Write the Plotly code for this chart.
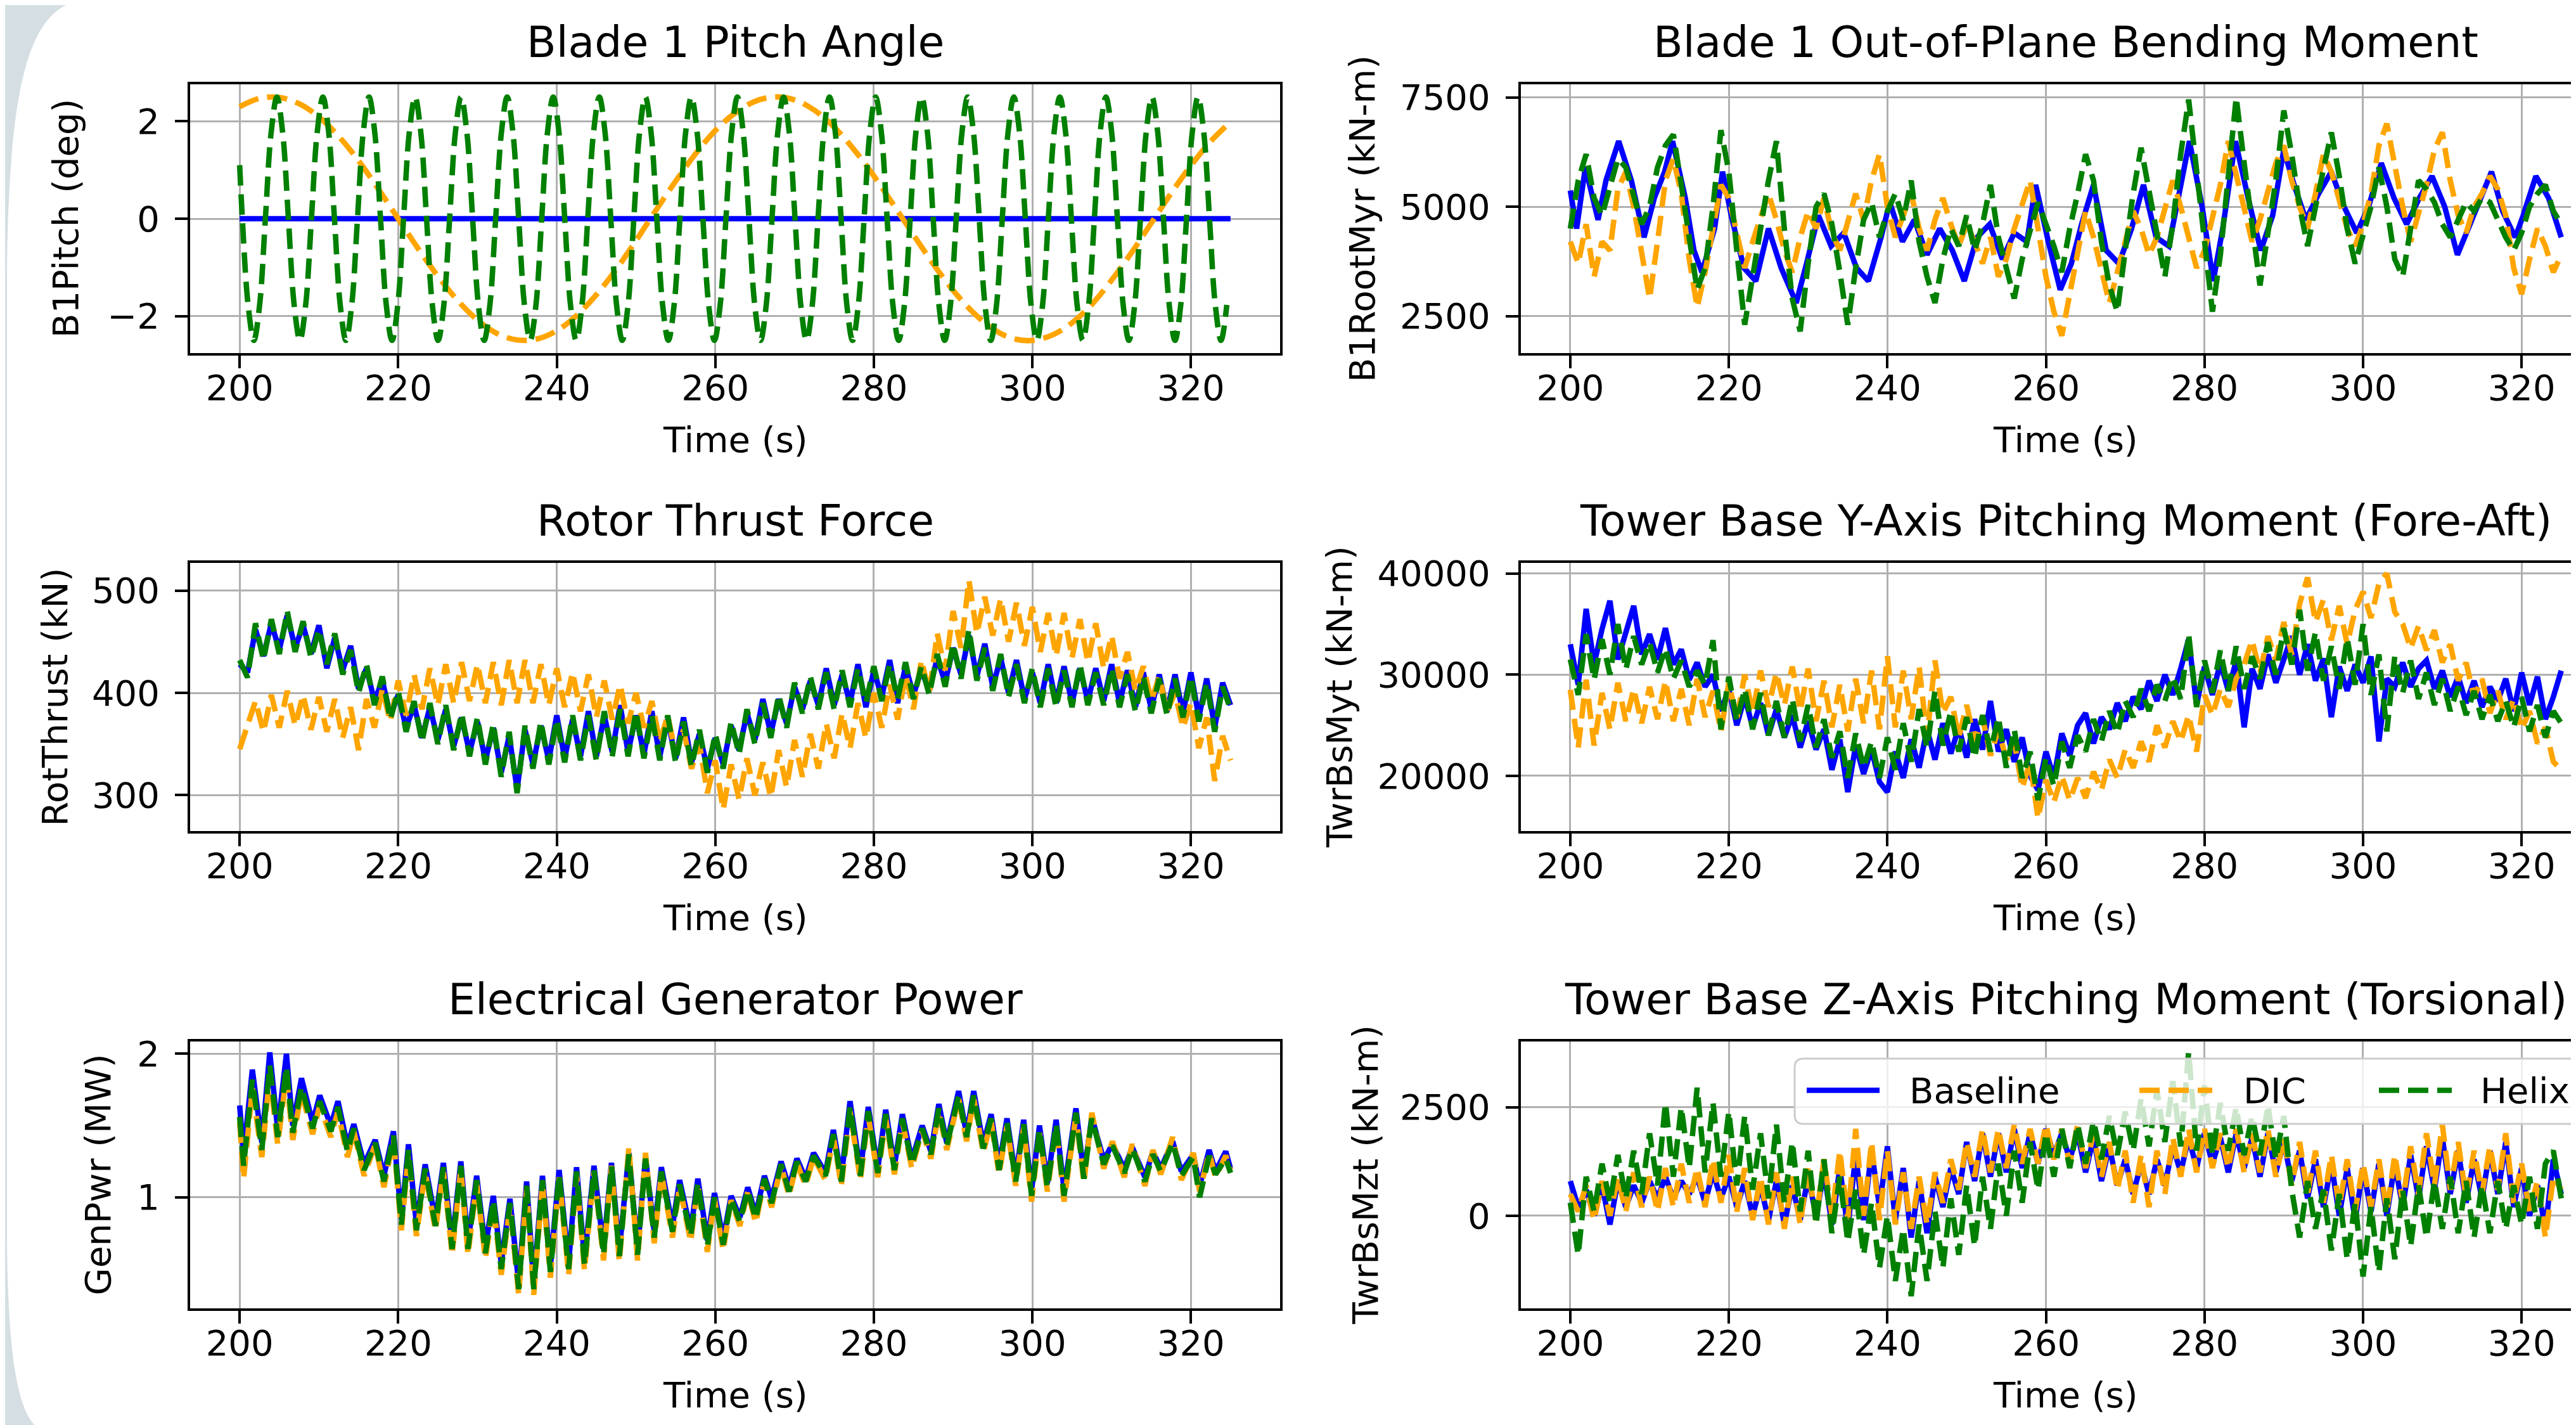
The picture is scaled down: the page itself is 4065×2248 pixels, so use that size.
import numpy as np
import plotly.graph_objects as go

W, H = 4065, 2248

# ---------------------------------------------------------------- data
TIME_1S = np.arange(200, 326)                      # 1-s sample grid (s)
TIME_TICKS = [200, 220, 240, 260, 280, 300, 320]
SERIES_NAMES = ["Baseline", "DIC", "Helix"]

# Blade 1 pitch angle (deg)
PITCH_T_BASE = [200.0, 325.0]
PITCH_BASE = [0.0, 0.0]
PITCH_T_DIC = np.linspace(200.0, 325.0, 51)
PITCH_DIC = [2.30, 2.47, 2.49, 2.36, 2.09, 1.69, 1.19, 0.61, 0.00, -0.61,
             -1.18, -1.68, -2.08, -2.36, -2.49, -2.47, -2.30, -1.99, -1.56, -1.04,
             -0.45, 0.17, 0.77, 1.33, 1.81, 2.17, 2.41, 2.50, 2.44, 2.23,
             1.88, 1.42, 0.88, 0.28, -0.33, -0.93, -1.47, -1.92, -2.26, -2.46,
             -2.50, -2.39, -2.14, -1.76, -1.26, -0.70, -0.09, 0.52, 1.09, 1.59,
             1.99]
PITCH_T_HELIX = np.concatenate([[200.0], np.round(200.34 + 0.72625 * np.arange(172), 3)])
PITCH_HELIX = [1.1,
    0, -1.77, -2.5, -1.77, 0, 1.77, 2.5, 1.77,
    0, -1.77, -2.5, -1.77, 0, 1.77, 2.5, 1.77,
    0, -1.77, -2.5, -1.77, 0, 1.77, 2.5, 1.77,
    0, -1.77, -2.5, -1.77, 0, 1.77, 2.5, 1.77,
    0, -1.77, -2.5, -1.77, 0, 1.77, 2.5, 1.77,
    0, -1.77, -2.5, -1.77, 0, 1.77, 2.5, 1.77,
    0, -1.77, -2.5, -1.77, 0, 1.77, 2.5, 1.77,
    0, -1.77, -2.5, -1.77, 0, 1.77, 2.5, 1.77,
    0, -1.77, -2.5, -1.77, 0, 1.77, 2.5, 1.77,
    0, -1.77, -2.5, -1.77, 0, 1.77, 2.5, 1.77,
    0, -1.77, -2.5, -1.77, 0, 1.77, 2.5, 1.77,
    0, -1.77, -2.5, -1.77, 0, 1.77, 2.5, 1.77,
    0, -1.77, -2.5, -1.77, 0, 1.77, 2.5, 1.77,
    0, -1.77, -2.5, -1.77, 0, 1.77, 2.5, 1.77,
    0, -1.77, -2.5, -1.77, 0, 1.77, 2.5, 1.77,
    0, -1.77, -2.5, -1.77, 0, 1.77, 2.5, 1.77,
    0, -1.77, -2.5, -1.77, 0, 1.77, 2.5, 1.77,
    0, -1.77, -2.5, -1.77, 0, 1.77, 2.5, 1.77,
    0, -1.77, -2.5, -1.77, 0, 1.77, 2.5, 1.77,
    0, -1.77, -2.5, -1.77, 0, 1.77, 2.5, 1.77,
    0, -1.77, -2.5, -1.77, 0, 1.77, 2.5, 1.77,
    0, -1.77, -2.5, -1.77]

# Blade 1 out-of-plane root bending moment (kN-m)
MYR_T_BASE = [200, 200.8, 201.9, 203.5, 204.5, 206.1, 207.7, 209.3, 210.6, 211.9,
              212.9, 214.5, 215.6, 216.6, 218.2, 219.2, 220.3, 221.9, 223.4, 225.0,
              226.6, 228.5, 229.8, 231.3, 232.9, 234.5, 236.1, 237.6, 239.2, 240.3,
              241.9, 243.4, 245.0, 246.6, 248.2, 249.7, 251.3, 252.9, 254.5, 256.0,
              257.6, 258.7, 260.3, 261.8, 263.2, 264.5, 266.0, 267.6, 269.2, 270.8,
              272.3, 273.9, 275.5, 277.1, 278.1, 279.7, 281.1, 282.3, 283.9, 285.5,
              287.1, 288.6, 290.0, 291.3, 292.8, 294.4, 296.0, 297.6, 299.2, 300.7,
              302.3, 303.9, 305.5, 307.1, 308.7, 310.3, 311.9, 313.5, 315.1, 316.2,
              317.6, 319.2, 320.2, 321.8, 323.4, 325.0]
MYR_BASE = [5370, 4500, 5900, 4700, 5600, 6500, 5600, 4300, 5200, 5800,
            6500, 5200, 4000, 3500, 4500, 5800, 4800, 3600, 3300, 4500,
            3600, 2800, 3700, 4800, 4100, 4400, 3600, 3300, 4300, 5100,
            4200, 4700, 3900, 4500, 4000, 3300, 4300, 4600, 3800, 4400,
            4200, 5500, 4200, 3100, 3700, 4600, 5500, 4000, 3700, 4500,
            5500, 4300, 4100, 5500, 6500, 5000, 3300, 4500, 6500, 5200,
            4000, 4800, 6300, 5500, 4700, 5300, 5800, 5000, 4400, 5000,
            6000, 5200, 4600, 5200, 5700, 5000, 3900, 4600, 5300, 5800,
            4900, 4300, 4800, 5700, 5200, 4300]
MYR_DIC = [4200, 3700, 4600, 3400, 4200, 4000, 5400, 5800, 5000, 3900,
           2900, 4200, 5600, 6100, 5300, 3800, 2700, 3500, 4500, 5500,
           5200, 4400, 3600, 4200, 4800, 5300, 4700, 4000, 3500, 4300,
           4900, 4500, 5200, 4400, 4000, 4700, 5300, 4700, 5600, 6200,
           5000, 4300, 4800, 5300, 4500, 4000, 4700, 5200, 4600, 4100,
           4600, 4200, 3700, 4300, 3400, 3800, 4500, 5100, 5600, 4500,
           3400, 2600, 2050, 3000, 4000, 4900, 4300, 3500, 2800, 3500,
           4200, 4900, 4500, 3900, 4300, 5000, 5600, 5000, 4300, 3600,
           4000, 4800, 5500, 6500, 5700, 5000, 4200, 4700, 5300, 6000,
           6400, 5600, 5000, 4500, 5300, 6200, 5800, 5200, 4500, 4100,
           4600, 5300, 6400, 6900, 5900, 5000, 4200, 4800, 5500, 6300,
           6700, 5600, 4800, 4400, 5000, 5300, 5700, 5400, 4800, 3600,
           3000, 3800, 4500, 4100, 3500, 3900]
MYR_HELIX = [4500, 5600, 6200, 5200, 4800, 5500, 6100, 5900, 5200, 4600,
             5000, 5900, 6400, 6650, 5500, 4200, 3100, 3600, 5000, 6750,
             5800, 4000, 2300, 3400, 4600, 5600, 6500, 4500, 2900, 2150,
             3700, 5000, 5300, 4600, 3500, 2300, 3600, 4700, 5100, 4300,
             4900, 5300, 4700, 5600, 4200, 3400, 2800, 3800, 4500, 4100,
             4800, 4000, 4600, 5500, 4300, 3600, 2900, 3800, 4500, 5100,
             4600, 4100, 3500, 4500, 5300, 6200, 5600, 4200, 3200, 2600,
             4000, 5300, 6350, 5400, 4300, 3400, 4600, 6200, 7450, 5800,
             4000, 2600, 3900, 5800, 7500, 6000, 4500, 3200, 4400, 5600,
             7200, 6200, 5000, 4100, 5000, 5900, 6700, 5700, 4500, 3700,
             4300, 5000, 5900, 5000, 3800, 3400, 4500, 5600, 5400, 5100,
             4600, 4300, 4700, 5100, 4900, 5200, 5100, 4700, 4300, 4000,
             4400, 5000, 5300, 5500, 4900, 4600]

# Rotor thrust (kN), 1-s grid
THRUST_BASE = [428, 420, 462, 436, 468, 442, 476, 444, 466, 438,
               466, 424, 454, 422, 446, 404, 424, 392, 412, 378,
               398, 366, 388, 356, 386, 354, 384, 348, 376, 342,
               372, 334, 366, 322, 358, 306, 364, 330, 368, 334,
               378, 336, 374, 338, 382, 338, 378, 342, 388, 342,
               378, 340, 382, 338, 374, 336, 376, 332, 360, 326,
               356, 330, 368, 344, 380, 354, 394, 360, 394, 370,
               406, 384, 412, 388, 424, 388, 418, 390, 428, 386,
               422, 396, 432, 390, 426, 398, 422, 402, 434, 410,
               444, 418, 456, 416, 448, 406, 434, 400, 432, 394,
               420, 390, 428, 390, 426, 390, 424, 392, 424, 392,
               428, 390, 422, 386, 420, 384, 418, 382, 418, 380,
               420, 376, 414, 366, 410, 388]
THRUST_DIC = [345, 368, 392, 362, 398, 366, 402, 368, 398, 364,
              396, 362, 394, 356, 386, 344, 394, 366, 404, 372,
              412, 378, 418, 384, 424, 388, 428, 390, 430, 392,
              428, 390, 430, 388, 432, 390, 432, 390, 428, 388,
              424, 386, 420, 382, 418, 376, 412, 374, 408, 370,
              400, 366, 392, 352, 378, 340, 364, 326, 350, 302,
              334, 286, 330, 296, 336, 300, 332, 298, 344, 308,
              354, 318, 360, 326, 370, 336, 380, 346, 390, 356,
              400, 366, 408, 374, 418, 384, 432, 400, 458, 422,
              480, 444, 510, 458, 494, 456, 492, 450, 488, 446,
              484, 440, 478, 436, 478, 434, 472, 430, 468, 424,
              456, 414, 440, 402, 426, 392, 416, 382, 400, 366,
              390, 346, 376, 314, 358, 334]
THRUST_HELIX = [432, 415, 468, 432, 472, 438, 480, 440, 470, 434,
                462, 428, 458, 418, 442, 400, 428, 388, 416, 374,
                402, 362, 392, 352, 390, 350, 388, 344, 380, 338,
                376, 330, 370, 318, 362, 302, 368, 326, 372, 330,
                374, 332, 378, 334, 378, 334, 382, 338, 384, 338,
                382, 336, 378, 334, 378, 332, 372, 328, 364, 322,
                360, 326, 372, 340, 384, 350, 390, 356, 398, 366,
                410, 380, 416, 384, 420, 384, 422, 386, 424, 390,
                426, 392, 428, 394, 430, 394, 426, 398, 438, 406,
                448, 414, 462, 412, 444, 402, 438, 396, 428, 390,
                424, 386, 424, 386, 422, 386, 428, 388, 420, 388,
                424, 386, 418, 382, 416, 380, 414, 378, 414, 376,
                416, 372, 410, 362, 406, 384]

# Tower base fore-aft moment (kN-m), 1-s grid
MYT_BASE = [33000, 29000, 36500, 31000, 34500, 37300, 31500, 34000, 36800, 32000,
            34000, 31500, 34600, 31000, 32500, 29500, 31200, 28800, 30000, 26400,
            28600, 25000, 27800, 24800, 27200, 24000, 26600, 23800, 26000, 22800,
            25400, 22600, 24600, 20600, 23600, 18400, 23000, 20200, 22600, 19400,
            18400, 22400, 19800, 23600, 20800, 24600, 21600, 25200, 22200, 24800,
            21800, 25600, 22600, 27400, 22400, 24600, 21400, 23800, 20000, 18600,
            22400, 19800, 24200, 22000, 25000, 26200, 23200, 25800, 24600, 27200,
            25400, 27800, 26600, 29400, 27400, 30000, 28000, 30600, 33500, 27000,
            30800, 28000, 31200, 28400, 31400, 24800, 30600, 28600, 32000, 29200,
            31600, 33800, 30000, 33000, 29400, 31600, 25800, 30800, 28400, 31000,
            29200, 31800, 23400, 29600, 28800, 31200, 28800, 30600, 31400, 28600,
            30400, 27800, 29800, 27200, 29400, 26800, 28800, 27400, 29600, 26400,
            30200, 27000, 29800, 25600, 27800, 30400]
MYT_DIC = [28500, 22800, 29500, 23000, 28200, 24600, 29200, 25400, 28600, 25200,
           28800, 25600, 29400, 25400, 28600, 25000, 29600, 25800, 28400, 24400,
           29200, 25600, 30000, 26200, 30400, 26800, 30200, 27000, 30800, 26400,
           30600, 25400, 29400, 24800, 29000, 24400, 29600, 25200, 30400, 24600,
           31800, 24800, 30400, 25600, 30800, 23800, 31400, 26200, 27800, 23800,
           27000, 23400, 25800, 22000, 24600, 21600, 23400, 18800, 21400, 15800,
           19600, 17400, 20000, 17600, 19800, 17800, 20400, 18600, 21600, 19800,
           22600, 20800, 23400, 21400, 25000, 22800, 25400, 23400, 26000, 22400,
           28000, 26000, 28600, 26800, 29600, 31000, 33400, 30200, 33800, 31400,
           35200, 32000, 37000, 39600, 35200, 37400, 33400, 36800, 33000, 36400,
           38200, 35600, 39000, 40000, 36200, 35000, 32600, 34800, 32400, 34400,
           31200, 33000, 29400, 31200, 27800, 29600, 26200, 28400, 25600, 27600,
           24600, 26400, 23200, 24800, 21400, 20600]
MYT_HELIX = [31500, 28000, 34000, 29500, 33500, 30000, 35000, 30500, 33800, 31000,
             33200, 30200, 32600, 29600, 31400, 28800, 30400, 29000, 33400, 24600,
             29800, 25400, 28600, 24600, 28200, 24000, 27400, 23800, 27600, 23400,
             27000, 22800, 25600, 21800, 24400, 19800, 24200, 20800, 23400, 19800,
             23800, 20600, 25200, 21400, 26600, 22800, 28400, 23000, 26400, 22400,
             25800, 21800, 26000, 22400, 25800, 20800, 24600, 19800, 22400, 17600,
             21800, 19000, 23400, 20800, 24000, 22400, 25600, 23400, 26400, 24200,
             27400, 25800, 28600, 26400, 29000, 27400, 29800, 27600, 34000, 26800,
             31400, 28200, 32400, 28400, 32800, 28600, 31800, 29600, 33200, 30000,
             34600, 31000, 36400, 30400, 34200, 29400, 32800, 28600, 33600, 29000,
             35000, 28000, 32000, 24400, 31800, 28200, 31400, 27600, 30200, 27000,
             29600, 26400, 28800, 26000, 28400, 25600, 28000, 25400, 27400, 24800,
             27800, 24400, 27000, 23800, 26400, 25200]

# Electrical generator power (MW), sampled at read peaks / troughs
PWR_T = [200.0, 200.5, 201.6, 202.8, 203.8, 204.8, 205.9, 206.7, 207.8, 209.2,
         210.1, 211.5, 212.4, 213.6, 214.4, 215.7, 217.1, 218.2, 219.4, 220.4,
         221.3, 222.3, 223.4, 224.7, 225.7, 226.8, 227.9, 228.8, 229.9, 231.0,
         232.0, 233.0, 234.1, 235.2, 236.2, 237.1, 238.2, 239.2, 240.3, 241.5,
         242.5, 243.5, 244.7, 245.9, 246.9, 247.9, 249.1, 250.2, 251.2, 252.3,
         253.2, 254.6, 255.5, 256.9, 257.8, 259.0, 259.9, 261.0, 262.0, 263.1,
         264.1, 265.1, 266.2, 267.1, 268.3, 269.3, 270.3, 271.4, 272.4, 273.9,
         274.9, 275.9, 277.0, 278.3, 279.3, 280.5, 281.5, 282.6, 283.6, 284.8,
         286.1, 287.2, 288.2, 289.2, 290.7, 291.7, 292.6, 293.8, 294.8, 295.8,
         296.8, 297.9, 298.9, 299.9, 300.9, 301.9, 303.0, 304.0, 305.5, 306.5,
         307.5, 309.0, 310.1, 311.6, 312.6, 314.2, 315.2, 316.2, 317.7, 318.8,
         320.3, 321.1, 322.3, 323.1, 324.4, 325.0]
PWR_BASE = [1.64, 1.30, 1.89, 1.38, 2.01, 1.47, 2.00, 1.50, 1.83, 1.52,
            1.71, 1.50, 1.67, 1.36, 1.51, 1.23, 1.40, 1.15, 1.46, 0.85,
            1.37, 0.81, 1.23, 0.84, 1.24, 0.68, 1.25, 0.68, 1.15, 0.65,
            1.01, 0.54, 0.99, 0.40, 1.11, 0.40, 1.15, 0.52, 1.19, 0.54,
            1.21, 0.57, 1.22, 0.64, 1.24, 0.63, 1.31, 0.64, 1.28, 0.76,
            1.21, 0.80, 1.12, 0.77, 1.13, 0.70, 1.03, 0.71, 1.01, 0.86,
            1.07, 0.88, 1.15, 0.99, 1.25, 1.07, 1.27, 1.13, 1.31, 1.17,
            1.47, 1.14, 1.67, 1.18, 1.63, 1.20, 1.61, 1.22, 1.58, 1.26,
            1.50, 1.32, 1.65, 1.38, 1.74, 1.44, 1.74, 1.37, 1.58, 1.22,
            1.55, 1.14, 1.54, 1.05, 1.50, 1.10, 1.54, 1.05, 1.62, 1.16,
            1.56, 1.26, 1.37, 1.20, 1.35, 1.14, 1.32, 1.20, 1.39, 1.18,
            1.30, 1.08, 1.33, 1.18, 1.32, 1.20]
PWR_DIC = [1.52, 1.13, 1.76, 1.28, 1.86, 1.37, 1.85, 1.40, 1.73, 1.44,
           1.64, 1.42, 1.60, 1.28, 1.46, 1.15, 1.37, 1.07, 1.41, 0.77,
           1.30, 0.73, 1.18, 0.77, 1.19, 0.60, 1.20, 0.60, 1.10, 0.57,
           0.96, 0.46, 0.94, 0.32, 1.06, 0.32, 1.10, 0.44, 1.14, 0.46,
           1.16, 0.49, 1.18, 0.56, 1.22, 0.55, 1.35, 0.56, 1.31, 0.68,
           1.17, 0.72, 1.08, 0.69, 1.09, 0.62, 0.99, 0.63, 0.98, 0.80,
           1.04, 0.82, 1.12, 0.93, 1.22, 1.01, 1.24, 1.08, 1.28, 1.12,
           1.42, 1.08, 1.60, 1.12, 1.57, 1.14, 1.55, 1.16, 1.53, 1.20,
           1.47, 1.27, 1.60, 1.33, 1.69, 1.39, 1.69, 1.31, 1.53, 1.16,
           1.50, 1.08, 1.49, 0.97, 1.45, 1.04, 1.50, 0.97, 1.57, 1.10,
           1.59, 1.20, 1.39, 1.14, 1.37, 1.08, 1.33, 1.16, 1.42, 1.12,
           1.31, 1.04, 1.31, 1.14, 1.29, 1.19]
PWR_HELIX = [1.56, 1.22, 1.82, 1.33, 1.92, 1.42, 1.91, 1.45, 1.77, 1.48,
             1.67, 1.46, 1.63, 1.32, 1.48, 1.19, 1.38, 1.11, 1.43, 0.81,
             1.33, 0.77, 1.20, 0.80, 1.21, 0.64, 1.22, 0.64, 1.12, 0.61,
             0.98, 0.50, 0.96, 0.36, 1.08, 0.36, 1.12, 0.48, 1.16, 0.50,
             1.18, 0.53, 1.19, 0.60, 1.22, 0.59, 1.30, 0.60, 1.27, 0.72,
             1.18, 0.76, 1.09, 0.73, 1.10, 0.66, 1.00, 0.67, 0.99, 0.83,
             1.05, 0.85, 1.13, 0.96, 1.23, 1.04, 1.25, 1.11, 1.29, 1.15,
             1.44, 1.11, 1.63, 1.15, 1.60, 1.17, 1.58, 1.19, 1.55, 1.23,
             1.48, 1.30, 1.62, 1.36, 1.71, 1.42, 1.71, 1.34, 1.55, 1.19,
             1.52, 1.11, 1.51, 1.01, 1.47, 1.07, 1.51, 1.01, 1.59, 1.13,
             1.55, 1.23, 1.36, 1.17, 1.34, 1.11, 1.30, 1.18, 1.38, 1.15,
             1.28, 1.00, 1.29, 1.16, 1.27, 1.17]

# Tower base torsional moment (kN-m), 1-s grid
MZT_BASE = [800, 200, 600, 0, 700, -200, 800, 200, 700, 300,
            800, 400, 900, 400, 800, 500, 900, 300, 1000, 400,
            900, 200, 800, 0, 700, -100, 800, -200, 700, -100,
            900, 0, 1000, -200, 1100, -300, 1400, -100, 1500, 200,
            1600, -100, 1100, -500, 800, -400, 900, 200, 1100, 500,
            1700, 800, 1900, 900, 1900, 1000, 2000, 1100, 1900, 1200,
            2000, 1400, 1900, 1300, 1900, 1000, 1800, 800, 1600, 700,
            1300, 500, 1200, 500, 1300, 700, 1600, 1000, 1800, 1100,
            1900, 1200, 1800, 1000, 1900, 1100, 1800, 900, 1900, 1000,
            1700, 800, 1500, 400, 1300, 200, 1200, 0, 1100, -100,
            1100, 100, 1200, 0, 1200, 200, 1400, 400, 1600, 600,
            1800, 500, 1500, 300, 1300, 400, 1500, 500, 1700, 200,
            1100, 0, 700, -300, 1300, 500]
MZT_DIC = [500, 100, 700, -100, 800, 0, 900, 100, 1000, 200,
           900, 100, 1100, 200, 1200, 300, 1100, 200, 1300, 300,
           1400, 100, 1100, -100, 900, -200, 1000, -300, 900, -200,
           1100, -100, 1300, 0, 1500, -100, 2000, 0, 1700, -100,
           1500, -200, 1000, -300, 900, -200, 1000, 300, 1300, 600,
           1700, 900, 2000, 1000, 2000, 1100, 2100, 1200, 2000, 1200,
           2100, 1300, 2000, 1200, 2100, 1100, 1900, 900, 1700, 600,
           1500, 300, 1400, 200, 1500, 500, 1800, 900, 2000, 1000,
           2000, 1100, 1900, 1100, 2000, 1000, 1900, 1000, 2000, 900,
           1800, 700, 1700, 500, 1500, 300, 1400, 200, 1300, 100,
           1200, 200, 1300, 100, 1400, 300, 1600, 500, 1900, 700,
           2100, 600, 1700, 400, 1500, 500, 1600, 600, 1900, 300,
           1200, 100, 800, -500, 900, 600]
MZT_HELIX = [300, -900, 900, 100, 1200, 300, 1400, 400, 1500, 500,
             1900, 700, 2600, 900, 2500, 1100, 2950, 1000, 2600, 900,
             2400, 700, 2300, 600, 1900, 400, 2100, 300, 1700, 100,
             1500, -200, 1300, -400, 900, -600, 600, -900, 300, -1200,
             0, -1500, -300, -1850, -200, -1500, 100, -1200, 400, -900,
             700, -700, 900, -300, 1200, 0, 1500, 300, 1700, 600,
             1900, 900, 2000, 1100, 2100, 1200, 2200, 1300, 2300, 1400,
             2400, 1500, 2700, 1600, 2900, 1700, 3100, 1600, 3770, 1500,
             3000, 1400, 2600, 1500, 2500, 1400, 2300, 1400, 2550, 1300,
             2300, 600, -500, 800, -300, 600, -800, 500, -1000, 300,
             -1400, 200, -1300, 400, -1000, 600, -700, 700, -500, 800,
             -300, 900, -400, 800, -500, 700, -400, 800, -300, 700,
             -200, 900, -300, 1200, 1500, 400]

# ---------------------------------------------------------------- styling / layout
FONT = "DejaVu Sans"
TITLE_SIZE, TICK_SIZE, LABEL_SIZE = 68, 56, 56
LINE_W = 8.6
DASH = "32px,14px"
STYLE = {"Baseline": dict(color="#0000ff", dash="solid"),
         "DIC": dict(color="#ffa500", dash=DASH),
         "Helix": dict(color="#008000", dash=DASH)}

COL_X = [(292.0, 2012.0), (2391.8, 4065.0)]
COL_CENTER = [1152.0, 3251.8]
XRANGE = [[193.75, 331.25], [193.75, 327.5]]
ROW_Y = [(125.0, 549.0), (880.0, 1303.0), (1635.0, 2056.0)]


def fx(px):
    return px / W


def fy(py):
    return 1.0 - py / H


panels = [
    dict(title="Blade 1 Pitch Angle", ylabel="B1Pitch (deg)", row=0, col=0, ylab_x=95,
         yrange=[-2.76, 2.76], yticks=[-2, 0, 2], yticktext=["\u22122", "0", "2"],
         series=[(PITCH_T_BASE, PITCH_BASE, "Baseline", "linear"),
                 (PITCH_T_DIC, PITCH_DIC, "DIC", "spline"),
                 (PITCH_T_HELIX, PITCH_HELIX, "Helix", "spline")]),
    dict(title="Blade 1 Out-of-Plane Bending Moment", ylabel="B1RootMyr (kN-m)", row=0, col=1,
         ylab_x=2141, yrange=[1653, 7799], yticks=[2500, 5000, 7500],
         yticktext=["2500", "5000", "7500"],
         series=[(MYR_T_BASE, MYR_BASE, "Baseline", "linear"),
                 (TIME_1S, MYR_DIC, "DIC", "linear"),
                 (TIME_1S, MYR_HELIX, "Helix", "linear")]),
    dict(title="Rotor Thrust Force", ylabel="RotThrust (kN)", row=1, col=0, ylab_x=78,
         yrange=[265, 527], yticks=[300, 400, 500], yticktext=["300", "400", "500"],
         series=[(TIME_1S, THRUST_BASE, "Baseline", "linear"),
                 (TIME_1S, THRUST_DIC, "DIC", "linear"),
                 (TIME_1S, THRUST_HELIX, "Helix", "linear")]),
    dict(title="Tower Base Y-Axis Pitching Moment (Fore-Aft)", ylabel="TwrBsMyt (kN-m)",
         row=1, col=1, ylab_x=2105, yrange=[14550, 41040], yticks=[20000, 30000, 40000],
         yticktext=["20000", "30000", "40000"],
         series=[(TIME_1S, MYT_BASE, "Baseline", "linear"),
                 (TIME_1S, MYT_DIC, "DIC", "linear"),
                 (TIME_1S, MYT_HELIX, "Helix", "linear")]),
    dict(title="Electrical Generator Power", ylabel="GenPwr (MW)", row=2, col=0, ylab_x=146,
         yrange=[0.226, 2.086], yticks=[1, 2], yticktext=["1", "2"],
         series=[(PWR_T, PWR_BASE, "Baseline", "linear"),
                 (PWR_T, PWR_DIC, "DIC", "linear"),
                 (PWR_T, PWR_HELIX, "Helix", "linear")]),
    dict(title="Tower Base Z-Axis Pitching Moment (Torsional)", ylabel="TwrBsMzt (kN-m)",
         row=2, col=1, ylab_x=2146, yrange=[-2132, 4014], yticks=[0, 2500],
         yticktext=["0", "2500"],
         series=[(TIME_1S, MZT_BASE, "Baseline", "linear"),
                 (TIME_1S, MZT_DIC, "DIC", "linear"),
                 (TIME_1S, MZT_HELIX, "Helix", "linear")]),
]

fig = go.Figure()
layout = dict(width=W, height=H, autosize=False, margin=dict(l=0, r=0, t=0, b=0),
              paper_bgcolor="white", plot_bgcolor="white", showlegend=False,
              template="none", font=dict(family=FONT, color="black"))
annotations = []
shapes = []

for i, p in enumerate(panels, start=1):
    x0, x1 = COL_X[p["col"]]
    ytop, ybot = ROW_Y[p["row"]]
    xa = "xaxis" if i == 1 else f"xaxis{i}"
    ya = "yaxis" if i == 1 else f"yaxis{i}"
    common = dict(showgrid=True, gridcolor="#b0b0b0", gridwidth=3, zeroline=False,
                  showline=True, linecolor="black", linewidth=4,
                  ticks="outside", ticklen=20, tickwidth=4, tickcolor="black",
                  tickfont=dict(family=FONT, size=TICK_SIZE, color="black"),
                  fixedrange=True)
    layout[xa] = dict(domain=[fx(x0), fx(x1)], range=XRANGE[p["col"]],
                      anchor=f"y{i}", tickmode="array", tickvals=TIME_TICKS,
                      ticktext=[str(t) for t in TIME_TICKS], mirror=True,
                      ticklabelstandoff=-17, **common)
    layout[ya] = dict(domain=[fy(ybot), fy(ytop)], range=p["yrange"], anchor=f"x{i}",
                      tickmode="array", tickvals=p["yticks"], ticktext=p["yticktext"],
                      mirror=(p["col"] == 0), ticklabelstandoff=13, **common)
    for tx, vy, name, shape in p["series"]:
        st = STYLE[name]
        n = min(len(tx), len(vy))
        fig.add_trace(go.Scatter(
            x=list(tx)[:n], y=list(vy)[:n], mode="lines", name=name,
            line=dict(color=st["color"], width=LINE_W, dash=st["dash"], shape=shape),
            xaxis=f"x{i}", yaxis=f"y{i}", showlegend=False, hoverinfo="skip"))
    cx = COL_CENTER[p["col"]]
    annotations.append(dict(text=p["title"], x=fx(cx), y=fy(ytop - 25),
                            xref="paper", yref="paper", xanchor="center", yanchor="bottom",
                            showarrow=False,
                            font=dict(family=FONT, size=TITLE_SIZE, color="black")))
    annotations.append(dict(text="Time (s)", x=fx(cx), y=fy(ybot + 171),
                            xref="paper", yref="paper", xanchor="center", yanchor="bottom",
                            showarrow=False,
                            font=dict(family=FONT, size=LABEL_SIZE, color="black")))
    annotations.append(dict(text=p["ylabel"], x=fx(p["ylab_x"]), y=fy((ytop + ybot) / 2),
                            xref="paper", yref="paper", xanchor="center", yanchor="middle",
                            textangle=-90, showarrow=False,
                            font=dict(family=FONT, size=LABEL_SIZE, color="black")))

# ---- legend (drawn in the last panel, matplotlib-style)
LX0, LX1, LY0, LY1, R = 2824.0, 4110.0, 1662.0, 1765.0, 14.0
legend_path = (f"M {fx(LX0 + R)},{fy(LY0)} L {fx(LX1)},{fy(LY0)} L {fx(LX1)},{fy(LY1)} "
               f"L {fx(LX0 + R)},{fy(LY1)} Q {fx(LX0)},{fy(LY1)} {fx(LX0)},{fy(LY1 - R)} "
               f"L {fx(LX0)},{fy(LY0 + R)} Q {fx(LX0)},{fy(LY0)} {fx(LX0 + R)},{fy(LY0)} Z")
shapes.append(dict(type="path", path=legend_path, xref="paper", yref="paper",
                   fillcolor="rgba(255,255,255,0.8)", line=dict(color="#cccccc", width=3),
                   layer="above"))
LEG_Y = 1712.0
legend_items = [("Baseline", 2843.0, 3003.0), ("DIC", 3368.0, 3530.0), ("Helix", 3746.0, 3904.0)]
for name, sx, tx in legend_items:
    st = STYLE[name]
    shapes.append(dict(type="line", xref="paper", yref="paper",
                       x0=fx(sx), x1=fx(sx + 115), y0=fy(LEG_Y), y1=fy(LEG_Y),
                       line=dict(color=st["color"], width=LINE_W, dash=st["dash"]),
                       layer="above"))
    annotations.append(dict(text=name, x=fx(tx), y=fy(LEG_Y), xref="paper", yref="paper",
                            xanchor="left", yanchor="middle", showarrow=False,
                            font=dict(family=FONT, size=LABEL_SIZE, color="black")))

# ---- slide background visible at the left edge (rounded card corners)
bg_path = (f"M 0,1 L {fx(96)},1 C {fx(40)},{fy(30)} {fx(6)},{fy(120)} {fx(3)},{fy(420)} "
           f"L {fx(3)},{fy(1950)} C {fx(5)},{fy(2160)} {fx(25)},{fy(2230)} {fx(57)},0 "
           f"L 0,0 Z")
shapes.append(dict(type="path", path=bg_path, xref="paper", yref="paper",
                   fillcolor="#d5dfe3", line=dict(width=0), layer="below"))

layout["annotations"] = annotations
layout["shapes"] = shapes
fig.update_layout(**layout)
fig.write_html("out.html")
